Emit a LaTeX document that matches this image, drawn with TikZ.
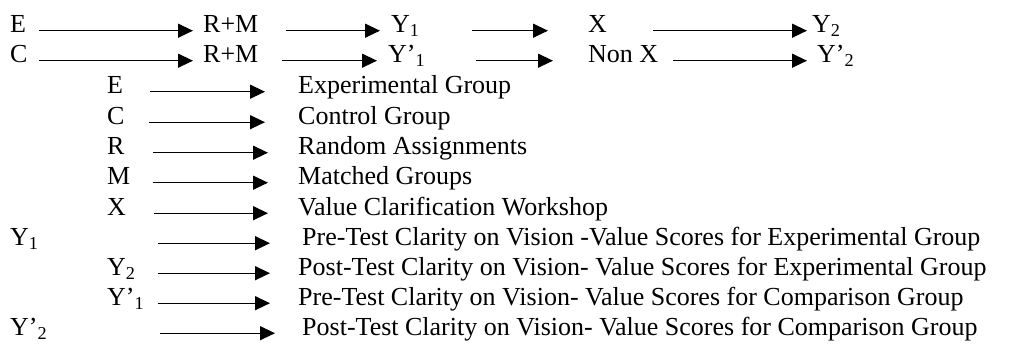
\documentclass[tikz,border=0pt]{standalone}
\usepackage{fontspec}
\setmainfont{Liberation Serif}
\usetikzlibrary{arrows.meta}

\tikzset{lbl/.style={anchor=base west,inner sep=0pt},
  arr/.style={draw,-{Triangle[length=15pt,width=14pt]},line width=1.4pt}}

\begin{document}
\begin{tikzpicture}[x=1pt,y=-1pt,font=\fontsize{26}{30}\selectfont]
\useasboundingbox (0,0) rectangle (1013,344);
% design: experimental row
\node[lbl] (e1) at (10,33) {E};
\node[lbl] (rm1) at (203,33) {R+M}; \path (e1.mid east) edge[arr,shorten <=13pt,shorten >=10pt] (rm1.mid west);
\node[lbl] (y1) at (391,33) {Y\textsubscript{1}}; \path (rm1.mid east) edge[arr,shorten <=27pt,shorten >=11pt] (y1.mid west);
\node[lbl] (x1) at (588,33) {X}; \path (y1.mid east) edge[arr,shorten <=52pt,shorten >=40pt] (x1.mid west);
\node[lbl] (y2) at (812,33) {Y\textsubscript{2}}; \path (x1.mid east) edge[arr,shorten <=46pt,shorten >=5pt] (y2.mid west);
% design: control row
\node[lbl] (c2) at (10,63) {C};
\node[lbl] (rm2) at (203,63) {R+M}; \path (c2.mid east) edge[arr,shorten <=11.7pt,shorten >=10pt] (rm2.mid west);
\node[lbl] (yp1) at (388,63) {Y’\textsubscript{1}}; \path (rm2.mid east) edge[arr,shorten <=23pt,shorten >=11pt] (yp1.mid west);
\node[lbl] (nonx) at (588,63) {Non X}; \path (yp1.mid east) edge[arr,shorten <=51pt,shorten >=35pt] (nonx.mid west);
\node[lbl] (yp2) at (817,63) {Y’\textsubscript{2}}; \path (nonx.mid east) edge[arr,shorten <=15pt,shorten >=10pt] (yp2.mid west);
% key
\node[lbl] (le) at (107,94) {E};
\node[lbl] (te) at (298,94) {Experimental Group}; \path (le.mid east) edge[arr,shorten <=27pt,shorten >=33pt] (te.mid west);
\node[lbl] (lc) at (107,124.5) {C};
\node[lbl] (tc) at (298,124.5) {Control Group}; \path (lc.mid east) edge[arr,shorten <=24.7pt,shorten >=33pt] (tc.mid west);
\node[lbl] (lr) at (107,155) {R};
\node[lbl] (tr) at (298,155) {Random Assignments}; \path (lr.mid east) edge[arr,shorten <=28.7pt,shorten >=30pt] (tr.mid west);
\node[lbl] (lm) at (107,185) {M};
\node[lbl] (tm) at (298,185) {Matched Groups}; \path (lm.mid east) edge[arr,shorten <=22pt,shorten >=30pt] (tm.mid west);
\node[lbl] (lx) at (107,215.5) {X};
\node[lbl] (tx) at (298,215.5) {Value Clarification Workshop}; \path (lx.mid east) edge[arr,shorten <=28pt,shorten >=30pt] (tx.mid west);
\node[lbl] (ly1) at (10,245.5) {Y\textsubscript{1}};
\node[lbl] (ty1) at (302,245.5) {Pre-Test Clarity on Vision -Value Scores for Experimental Group}; \path (ly1.mid east) edge[arr,shorten <=119pt,shorten >=32pt] (ty1.mid west);
\node[lbl] (ly2) at (107,275.5) {Y\textsubscript{2}};
\node[lbl] (ty2) at (298,275.5) {Post-Test Clarity on Vision- Value Scores for Experimental Group}; \path (ly2.mid east) edge[arr,shorten <=22pt,shorten >=28pt] (ty2.mid west);
\node[lbl] (lyp1) at (107,305.5) {Y’\textsubscript{1}};
\node[lbl] (typ1) at (298,305.5) {Pre-Test Clarity on Vision- Value Scores for Comparison Group}; \path (lyp1.mid east) edge[arr,shorten <=13.4pt,shorten >=28pt] (typ1.mid west);
\node[lbl] (lyp2) at (10,335.5) {Y’\textsubscript{2}};
\node[lbl] (typ2) at (302,335.5) {Post-Test Clarity on Vision- Value Scores for Comparison Group}; \path (lyp2.mid east) edge[arr,shorten <=113pt,shorten >=27pt] (typ2.mid west);
\end{tikzpicture}
\end{document}
